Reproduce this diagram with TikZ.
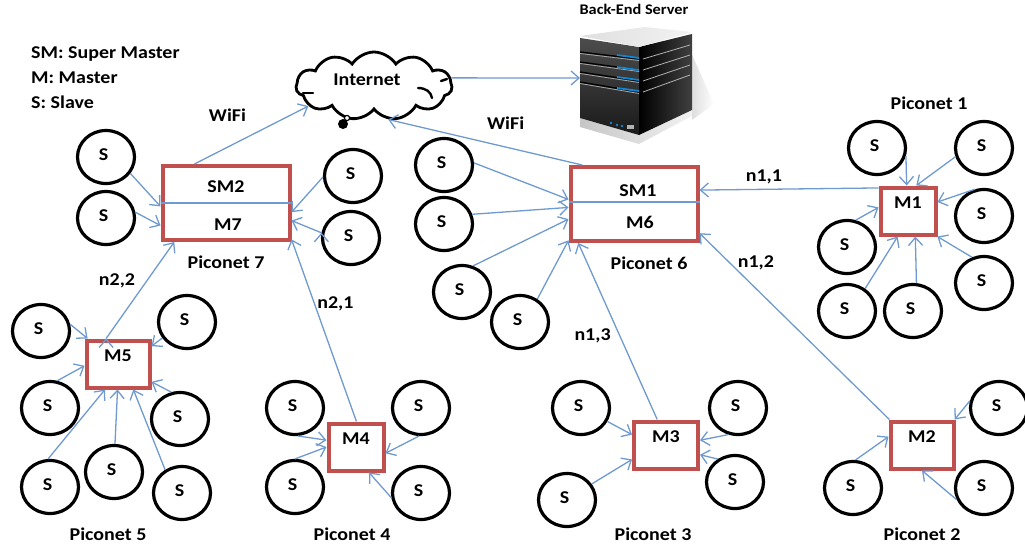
\documentclass[tikz,border=0pt]{standalone}
\usepackage{fontspec}
\setmainfont[FakeStretch=1.11]{Carlito}
\usepackage{xcolor}
\usetikzlibrary{positioning,arrows.meta,shapes.geometric,shapes.symbols,fadings}
\definecolor{boxred}{HTML}{C0504D}
\definecolor{linkblue}{HTML}{6F9AD0}

\begin{document}
\begin{tikzpicture}[x=1pt,y=-1pt,node distance = 24pt,on grid,
        font=\fontsize{18}{20}\selectfont\bfseries,
        slave/.style={draw,ellipse,line width=3.2pt,minimum width=57pt,minimum height=53pt,inner sep=0pt,text depth=4pt,execute at begin node={\kern-5pt}},
        master/.style={draw=boxred,line width=4pt,minimum height=47pt,inner sep=0pt,text height=11pt,text depth=16pt},
        supermaster/.style={draw=boxred,line width=4pt,minimum width=127pt,minimum height=74pt,inner sep=0pt},
        link/.style={draw=linkblue,line width=1.3pt,-{Straight Barb[length=8pt,width=14pt]}},
        divider/.style={draw=linkblue,line width=1.3pt}]
    \useasboundingbox (0,0) rectangle (1025,547);

    \node [supermaster] (sm2) at (226,203) {};
    \node [supermaster] (sm1) at (634,204) {};
    \node [master, minimum width=55pt] (m1) at (908,211) {M1};
    \node [master, minimum width=63pt] (m2) at (922,445) {M2};
    \node [master, minimum width=64pt] (m3) at (666,445) {M3};
    \node [master, minimum width=55pt] (m4) at (356,447) {M4};
    \node [master, minimum width=63pt] (m5) at (118,364) {M5};

    \node [above=16pt of sm2] (sm2text) {SM2};
    \node [below right=22pt and 2pt of sm2] (m7text) {M7};
    \node [above right=13pt and 4pt of sm1] (sm1text) {SM1};
    \node [below right=18pt and 6pt of sm1] (m6text) {M6};

    \node [slave] [above left=63pt and 31pt of m1] (s11) {S};
    \node [slave] [above right=63pt and 76pt of m1] (s12) {S};
    \node [slave] [below right=5pt and 76pt of m1] (s13) {S};
    \node [slave] [below right=72pt and 76pt of m1] (s14) {S};
    \node [slave] [below left=36pt and 61pt of m1] (s15) {S};
    \node [slave] [below left=100pt and 61pt of m1] (s16) {S};
    \node [slave] [below right=100pt and 5pt of m1] (s17) {S};

    \node [slave] [below left=43pt and 69pt of m2] (s21) {S};
    \node [slave] [below right=43pt and 62pt of m2] (s22) {S};
    \node [slave] [above right=37pt and 77pt of m2] (s23) {S};

    \node [slave] [above left=37pt and 85pt of m3] (s31) {S};
    \node [slave] [below left=55pt and 99pt of m3] (s32) {S};
    \node [slave] [above right=37pt and 72pt of m3] (s33) {S};
    \node [slave] [below right=37pt and 69pt of m3] (s34) {S};

    \node [slave] [above left=39pt and 61pt of m4] (s41) {S};
    \node [slave] [below left=40pt and 61pt of m4] (s42) {S};
    \node [slave] [above right=39pt and 65pt of m4] (s43) {S};
    \node [slave] [below right=46pt and 65pt of m4] (s44) {S};

    \node [slave] [above left=33pt and 77pt of m5] (s51) {S};
    \node [slave] [below left=44pt and 68pt of m5] (s52) {S};
    \node [slave] [below left=123pt and 68pt of m5] (s53) {S};
    \node [slave] [below left=108pt and 4pt of m5] (s54) {S};
    \node [slave] [below right=129pt and 64pt of m5] (s55) {S};
    \node [slave] [below right=55pt and 62pt of m5] (s56) {S};
    \node [slave] [above right=42pt and 69pt of m5] (s57) {S};

    \node [slave] [above left=39pt and 190pt of sm1] (s61) {S};
    \node [slave] [below left=20pt and 190pt of sm1] (s62) {S};
    \node [slave] [below left=88pt and 172pt of sm1] (s63) {S};
    \node [slave] [below left=118pt and 114pt of sm1] (s64) {S};

    \node [slave] [above left=46pt and 120pt of sm2] (s71) {S};
    \node [slave] [below left=15pt and 120pt of sm2] (s72) {S};
    \node [slave] [above right=27pt and 127pt of sm2] (s73) {S};
    \node [slave] [below right=35pt and 125pt of sm2] (s74) {S};

    \node [above right=108pt and 21pt of m1] (piconet1) {Piconet 1};
    \node [below=89pt of m2] (piconet2) {Piconet 2};
    \node [below left=89pt and 13pt of m3] (piconet3) {Piconet 3};
    \node [below left=87pt and 4pt of m4] (piconet4) {Piconet 4};
    \node [below left=170pt and 10pt of m5] (piconet5) {Piconet 5};
    \node [below right=59pt and 15pt of sm1] (piconet6) {Piconet 6};
    \node [below=59pt of sm2] (piconet7) {Piconet 7};

    \node [anchor=west,inner sep=0pt] (legend1) at (31,54) {SM: Super Master};
    \node [anchor=west,inner sep=0pt] (legend2) at (31,78) {M: Master};
    \node [anchor=west,inner sep=0pt] (legend3) at (31,102) {S: Slave};

    \node [draw,cloud,cloud puffs=11,cloud puff arc=115,aspect=2.4,line width=2.8pt,
           minimum width=156pt,minimum height=68pt,inner sep=0pt] (internet) at (374,86) {};
    \node (internettext) at (367,80) {Internet};
    \fill (343,124) circle (5pt);
    \filldraw [fill=white,line width=1.2pt] (347,118) circle (2.6pt);
    \draw [line width=2.4pt,line cap=round] (418,88) .. controls (426,88) and (431,92) .. (432,98);
    \draw [line width=2.4pt,line cap=round] (441,81) -- (447,79);
    \draw [line width=2.4pt,line cap=round] (303,93) -- (313,93);

    \node [font=\fontsize{14.7}{16}\selectfont\bfseries] (servertext) at (634,9) {Back-End Server};
    \fill [black,path fading=east,opacity=.14] (690,50) -- (714,104) -- (692,120) -- cycle;
    \shade [left color=gray!45,right color=gray!10] (580,118) -- (639,135) -- (692,110) -- (692,116) -- (639,144) -- (580,127) -- cycle;
    \shade [top color=black!70,bottom color=black!90] (580,38) -- (639,47) -- (639,135) -- (580,118) -- cycle;
    \shade [left color=black,right color=black!75] (639,47) -- (692,34) -- (692,110) -- (639,135) -- cycle;
    \shade [left color=gray!25,right color=gray!10] (580,36) -- (645,27) -- (692,32) -- (639,47) -- cycle;
    \foreach \ya/\yb/\yc in {52/59/45, 62/70/55, 72/81/65, 82/92/75} {
        \draw [black,line width=1.4pt] (580,\ya) -- (639,\yb);
        \draw [gray!70,line width=.8pt] (580,\ya+1.5) -- (639,\yb+1.5);
        \draw [gray!60,line width=.8pt] (643,\yb) -- (690,\yc);
    }
    \draw [cyan!70!blue,line width=1.8pt] (617,55) -- (639,58);
    \draw [cyan!70!blue,line width=1.8pt] (617,67) -- (639,70);
    \draw [cyan!70!blue,line width=1.8pt] (617,77) -- (639,80);
    \draw [cyan!70!blue,line width=1.8pt] (617,88) -- (639,91);
    \foreach \xa/\ya in {611/123, 617/125, 622/126} {
        \fill [cyan!70!blue] (\xa,\ya) circle (1.3pt);
    }
    \fill [gray!60] (627,125) rectangle (634,129);
    \coordinate (serverport) at (580,78);

    \path [divider] (sm2.west) -- (sm2.east);
    \path [divider] ([yshift=2pt]sm1.west) -- ([yshift=2pt]sm1.east);

    \path [link]
    (sm2.129) edge node [pos=.29,yshift=32pt] (wifi2) {WiFi} (internet.197)
    (sm1.143) edge node [pos=.395,yshift=24pt] (wifi1) {WiFi} (internet.-67)
    (internet.6) edge (serverport)
    (m1.142.7) edge node [pos=.64,yshift=12pt] (n11) {n1,1} (sm1.12.5)
    (m2.142.2) edge node [pos=.84,xshift=26pt] (n12) {n1,2} (sm1.-24.7)
    (m3.109) edge node [pos=.477,xshift=-27pt] (n13) {n1,3} (sm1.215.5)
    (m4.89) edge node [pos=.648,xshift=21pt] (n21) {n2,1} (sm2.-29.4)
    (m5.115) edge node [pos=.6,xshift=-30pt] (n22) {n2,2} (sm2.217);

    \path [link]
    (s11.-15.4) edge (m1.93.2)
    (s12.197.2) edge (m1.72.2)
    (s13.108.4) edge (m1.17.3)
    (s14.115.7) edge (m1.-41)
    (s15.72.2) edge (m1.173.5)
    (s16.51.6) edge (m1.248.4)
    (s17.83.9) edge (m1.-74.2)
    (s21.85.8) edge (m2.166.6)
    (s22.203.2) edge (m2.270)
    (s23.166.4) edge (m2.38.9)
    (s31.-27.3) edge (m3.163.6)
    (s32.33.2) edge (m3.203.8)
    (s33.250.3) edge (m3.8.4)
    (s34.127.7) edge (m3.-16.4)
    (s41.-84) edge (m4.167.6)
    (s42.90) edge (m4.180)
    (s43.266) edge (m4.-12)
    (s44.189.8) edge (m4.-63)
    (s51.13.6) edge (m5.140.5)
    (s52.75.5) edge (m5.183)
    (s53.94) edge (m5.243.4)
    (s54.88) edge (m5.269)
    (s55.126.5) edge (m5.-59.5)
    (s56.108.4) edge (m5.-28.8)
    (s57.213.7) edge (m5.28.8)
    (s61.4) edge (sm1.176.6)
    (s62.19) edge (sm1.183.4)
    (s63.67.8) edge (sm1.193.5)
    (s64.53) edge (sm1.209)
    (s71.-34.8) edge (sm2.183.5)
    (s72.11.3) edge (sm2.199.5)
    (s73.182) edge (sm2.-8.6)
    (s74.170) edge (sm2.-15.3);
\end{tikzpicture}
\end{document}
